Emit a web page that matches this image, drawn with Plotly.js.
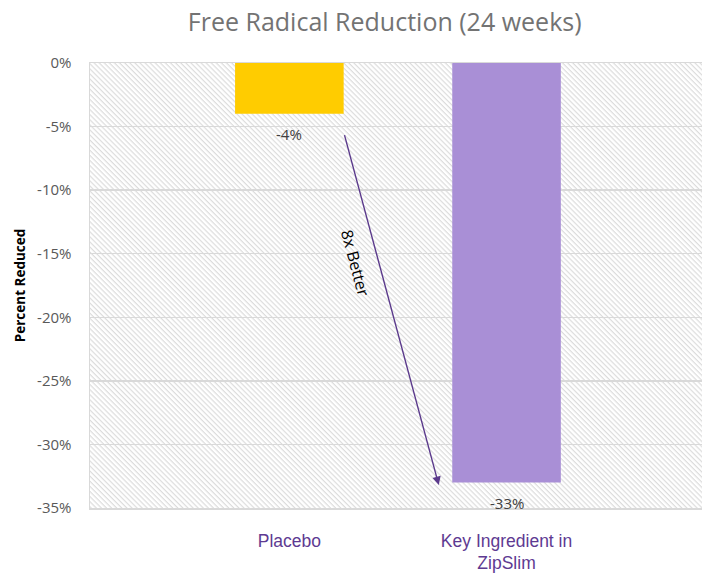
<!DOCTYPE html>
<html>
<head>
<meta charset="utf-8">
<script src="https://cdn.plot.ly/plotly-3.0.1.min.js"></script>
<style>html,body{margin:0;padding:0;background:#fff;}#chart{width:702px;height:574px;}</style>
</head>
<body>
<div id="chart"></div>
<script>
// ---- data ----
const categories = ['Placebo', 'Key Ingredient in<br>ZipSlim'];
const values = [-4, -33];
const valueLabels = ['-4%', '-33%'];
const barColors = ['#FFCC00', '#A98FD6'];
const yTickVals = [0, -5, -10, -15, -20, -25, -30, -35];
const yTickText = ['0%', '-5%', '-10%', '-15%', '-20%', '-25%', '-30%', '-35%'];
const chartTitle = 'Free Radical Reduction (24 weeks)';
const yTitle = 'Percent Reduced';
const arrowText = '8x Better';

// hatch background (decorative)
const W = 612, H = 445;
const hatchSvg = `<svg xmlns="http://www.w3.org/2000/svg" width="${W}" height="${H}" viewBox="0 0 ${W} ${H}" preserveAspectRatio="none">
<defs><pattern id="p" width="3.6" height="3.6" patternUnits="userSpaceOnUse" patternTransform="rotate(45)">
<rect width="3.6" height="3.6" fill="#ffffff"/><rect width="3.6" height="1.2" fill="#dcdcdc"/></pattern></defs>
<rect width="${W}" height="${H}" fill="url(#p)"/></svg>`;
const hatchURI = 'data:image/svg+xml;charset=utf-8,' + encodeURIComponent(hatchSvg);

const trace = {
  type: 'bar',
  x: categories,
  y: values,
  marker: {color: barColors, line: {width: 0}},
  width: 0.5,
  hoverinfo: 'skip'
};

// value labels placed under each bar, from the data arrays
const valueAnnotations = categories.map((c, i) => ({
  x: c, y: values[i], xref: 'x', yref: 'y',
  text: valueLabels[i], showarrow: false,
  yanchor: 'top', yshift: -8,
  font: {family: 'Open Sans', size: 15, color: '#404040'}
}));

const layout = {
  width: 702, height: 574,
  margin: {l: 90, r: 0, t: 63, b: 66},
  paper_bgcolor: '#ffffff',
  plot_bgcolor: '#ffffff',
  showlegend: false,
  title: {
    text: chartTitle,
    font: {family: 'Open Sans', size: 25, color: '#737373'},
    x: 0.548, xref: 'container', xanchor: 'center',
    y: 0.962, yref: 'container', yanchor: 'middle'
  },
  xaxis: {
    type: 'category',
    range: [-0.918, 1.9],
    showgrid: false,
    zeroline: false,
    showline: true, linecolor: '#d9d9d9', linewidth: 1.5, mirror: true,
    ticks: 'outside', ticklen: 16, tickcolor: 'rgba(0,0,0,0)',
    tickfont: {family: 'Liberation Sans, Arial, sans-serif', size: 17.5, color: '#5E3A92'},
    fixedrange: true
  },
  yaxis: {
    range: [-35, 0],
    tickvals: yTickVals,
    ticktext: yTickText,
    showgrid: true, gridcolor: '#d9d9d9', gridwidth: 1.5,
    zeroline: false,
    showline: true, linecolor: '#d9d9d9', linewidth: 1.5, mirror: true,
    ticks: 'outside', ticklen: 14, tickcolor: 'rgba(0,0,0,0)',
    tickfont: {family: 'Open Sans', size: 15, color: '#595959'},
    title: {text: yTitle, font: {family: 'Open Sans', size: 13.5, color: '#000000', weight: 'bold'}, standoff: 8},
    fixedrange: true
  },
  images: [{
    source: hatchURI, xref: 'paper', yref: 'paper',
    x: 0, y: 1, sizex: 1, sizey: 1, xanchor: 'left', yanchor: 'top',
    sizing: 'stretch', layer: 'below'
  }],
  annotations: valueAnnotations.concat([
    {
      x: 0.688, y: -33.19, xref: 'x', yref: 'y',
      ax: 0.252, ay: -5.55, axref: 'x', ayref: 'y',
      showarrow: true, arrowhead: 2, arrowsize: 1.2, arrowwidth: 1.4,
      arrowcolor: '#5B3A8C', text: ''
    },
    {
      x: 0.303, y: -15.75, xref: 'x', yref: 'y',
      text: arrowText, showarrow: false, textangle: 75,
      font: {family: 'Open Sans', size: 16, color: '#000000'}
    }
  ])
};

Plotly.newPlot('chart', [trace], layout, {displayModeBar: false, staticPlot: true});
</script>
</body>
</html>
